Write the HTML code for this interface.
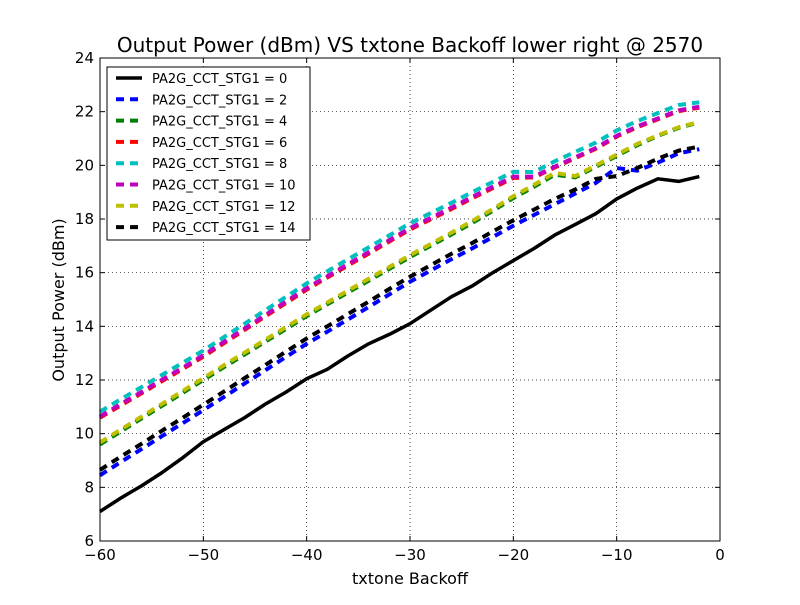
<!DOCTYPE html>
<html><head><meta charset="utf-8"><style>
body{margin:0;background:#fff;}
svg text{font-family:"DejaVu Sans","Liberation Sans",sans-serif;}
</style></head><body>
<svg id="chart" width="800" height="600" xmlns="http://www.w3.org/2000/svg">
<rect width="800" height="600" fill="#fff"/>
<g id="grid"></g>
<g id="series"></g>
<rect x="100" y="58" width="620" height="483" fill="none" stroke="#000" stroke-width="1"/>
<g id="ticks"></g>
<text x="410" y="52" font-size="20" text-anchor="middle">Output Power (dBm) VS txtone Backoff lower right @ 2570</text>
<text x="410" y="584" font-size="16" text-anchor="middle">txtone Backoff</text>
<text x="64" y="300" font-size="16" text-anchor="middle" transform="rotate(-90 64 300)">Output Power (dBm)</text>
<g id="legend"></g>
</svg>
<script>
const xValues=[-60,-58,-56,-54,-52,-50,-48,-46,-44,-42,-40,-38,-36,-34,-32,-30,-28,-26,-24,-22,-20,-18,-16,-14,-12,-10,-8,-6,-4,-2];
const s0=[7.1,7.6,8.05,8.55,9.1,9.7,10.15,10.6,11.1,11.55,12.05,12.4,12.9,13.35,13.7,14.1,14.6,15.1,15.5,16.0,16.45,16.9,17.4,17.8,18.2,18.75,19.15,19.5,19.4,19.58];
const s2=[8.45,8.94,9.42,9.91,10.39,10.88,11.37,11.87,12.36,12.86,13.35,13.8,14.26,14.72,15.19,15.66,16.08,16.5,16.9,17.33,17.75,18.15,18.55,18.95,19.35,19.9,19.8,20.1,20.45,20.6];
const s4=[9.6,10.08,10.56,11.04,11.52,12.0,12.48,12.95,13.43,13.9,14.38,14.82,15.26,15.7,16.14,16.58,17.0,17.42,17.85,18.3,18.78,19.2,19.65,19.55,19.95,20.35,20.75,21.1,21.4,21.6];
const s6=[10.6,11.05,11.5,11.96,12.41,12.87,13.37,13.87,14.37,14.87,15.37,15.82,16.27,16.71,17.16,17.61,17.99,18.37,18.77,19.15,19.53,19.55,19.92,20.27,20.62,21.07,21.42,21.72,22.02,22.15];
const s8=[10.82,11.28,11.73,12.19,12.64,13.1,13.6,14.1,14.6,15.1,15.6,16.05,16.5,16.94,17.39,17.84,18.22,18.6,19.0,19.38,19.76,19.75,20.15,20.5,20.85,21.3,21.65,21.95,22.25,22.35];
const s10=[10.64,11.1,11.55,12.01,12.46,12.92,13.42,13.92,14.42,14.92,15.42,15.87,16.32,16.76,17.21,17.66,18.04,18.42,18.82,19.2,19.58,19.58,19.95,20.3,20.65,21.1,21.45,21.75,22.05,22.18];
const s12=[9.67,10.15,10.63,11.11,11.59,12.07,12.55,13.02,13.5,13.97,14.45,14.89,15.33,15.77,16.21,16.65,17.07,17.49,17.92,18.37,18.85,19.27,19.72,19.6,20.0,20.4,20.8,21.12,21.42,21.62];
const s14=[8.65,9.14,9.62,10.11,10.59,11.08,11.57,12.07,12.56,13.06,13.55,14.0,14.46,14.92,15.39,15.85,16.28,16.7,17.1,17.53,17.95,18.35,18.75,19.1,19.5,19.6,19.9,20.25,20.55,20.7];
const seriesLabels=["PA2G_CCT_STG1 = 0","PA2G_CCT_STG1 = 2","PA2G_CCT_STG1 = 4","PA2G_CCT_STG1 = 6","PA2G_CCT_STG1 = 8","PA2G_CCT_STG1 = 10","PA2G_CCT_STG1 = 12","PA2G_CCT_STG1 = 14"];
const xTicks=[-60,-50,-40,-30,-20,-10,0];
const yTicks=[6,8,10,12,14,16,18,20,22,24];

const NS="http://www.w3.org/2000/svg";
const X0=100,X1=720,Y0=541,Y1=58;
function sx(v){return X0+(v+60)/60*(X1-X0);}
function sy(v){return Y0-(v-6)/18*(Y0-Y1);}
function mk(tag,attrs,parent){const e=document.createElementNS(NS,tag);for(const k in attrs)e.setAttribute(k,attrs[k]);parent.appendChild(e);return e;}
const grid=document.getElementById('grid'),ticks=document.getElementById('ticks');
xTicks.forEach(t=>{const x=sx(t);
 const g=mk('line',{x1:x,x2:x,y1:Y1,y2:Y0,stroke:'#000','stroke-width':0.7,'stroke-dasharray':'1,3'},grid);
 
 
 mk('line',{x1:x,x2:x,y1:Y0,y2:Y0-5,stroke:'#000'},ticks);mk('line',{x1:x,x2:x,y1:Y1,y2:Y1+5,stroke:'#000'},ticks);
 const tx=mk('text',{x:x,y:Y0+19,'font-size':15,'text-anchor':'middle'},ticks);tx.textContent=(t<0?'\u2212'+(-t):t);
 
 });
yTicks.forEach(t=>{const y=sy(t);
 const g=mk('line',{x1:X0,x2:X1,y1:y,y2:y,stroke:'#000','stroke-width':0.7,'stroke-dasharray':'1,3'},grid);
 
 
 mk('line',{x1:X0,x2:X0+5,y1:y,y2:y,stroke:'#000'},ticks);mk('line',{x1:X1,x2:X1-5,y1:y,y2:y,stroke:'#000'},ticks);
 const tx=mk('text',{x:X0-6,y:y+5,'font-size':15,'text-anchor':'end'},ticks);tx.textContent=t;
 
 });
const all=[s0,s2,s4,s6,s8,s10,s12,s14];
const colors=['#000','#0000ff','#008000','#ff0000','#00bfbf','#bf00bf','#bfbf00','#000'];
const names=['series-0','series-2','series-4','series-6','series-8','series-10','series-12','series-14'];
const sg=document.getElementById('series');
all.forEach((s,i)=>{const pts=s.map((v,j)=>sx(xValues[j]).toFixed(1)+','+sy(v).toFixed(1)).join(' ');
 const a={points:pts,fill:'none',stroke:colors[i],'stroke-width':i==0?3.5:4,'stroke-linejoin':'round'};
 if(i>0)a['stroke-dasharray']='8,6';
 const p=mk('polyline',a,sg);
 
 });
const lg=document.getElementById('legend');
const box=mk('rect',{x:107,y:67,width:203,height:173,fill:'#fff',stroke:'#000','stroke-width':1},lg);


seriesLabels.forEach((lab,i)=>{const y=78+i*21.3;
 const a={x1:116,x2:142,y1:y,y2:y,stroke:colors[i],'stroke-width':i==0?3.5:4};if(i>0)a['stroke-dasharray']='8,6';
 const l=mk('line',a,lg);
 
 
 const t=mk('text',{x:152,y:y+5,'font-size':13},lg);t.textContent=lab;
 
 });
</script>
</body></html>
